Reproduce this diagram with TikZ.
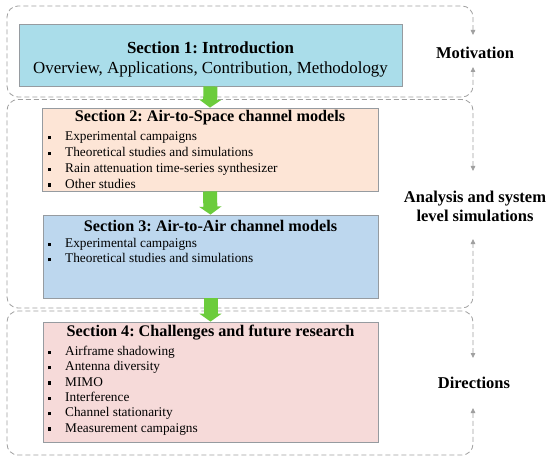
\documentclass[tikz,border=0pt]{standalone}
\usepackage{fontspec}
\setmainfont{Liberation Serif}
\usetikzlibrary{arrows.meta}
\definecolor{cIntro}{RGB}{170,221,234}
\definecolor{cAS}{RGB}{253,229,214}
\definecolor{cAA}{RGB}{189,215,238}
\definecolor{cCh}{RGB}{246,218,217}
\definecolor{cBorder}{RGB}{150,155,160}
\definecolor{cGreen}{RGB}{108,204,60}
\definecolor{cDash}{RGB}{160,160,160}
\newcommand\sqb{\makebox[17pt][l]{\rule[1.5pt]{3pt}{3.3pt}}}
\frenchspacing
\begin{document}
\begin{tikzpicture}[x=1pt,y=-1pt,
  sbox/.style={draw=cBorder, line width=0.8pt, inner sep=0pt},
  ttl/.style={font=\fontsize{16.2}{19}\selectfont\bfseries, inner sep=0pt},
  itm/.style={font=\fontsize{13.3}{15.7}\selectfont, align=left, inner sep=0pt, anchor=north west},
  lbl/.style={font=\fontsize{16.5}{19}\selectfont\bfseries, align=center, inner sep=0pt},
  grp/.style={draw=cDash, line width=0.8pt, dash pattern=on 5pt off 3pt, rounded corners=11pt,
    {Triangle[length=5pt,width=4.5pt]}-{Triangle[length=5pt,width=4.5pt]}},
  garrow/.style={draw=cGreen, line width=14pt, -{Triangle[length=8pt,width=22pt]}}]
\useasboundingbox (0,0) rectangle (550,460);
\fill[white] (0,0) rectangle (550,460);

% right-hand labels
\node[lbl] (mot) at (475,53) {Motivation};
\node[lbl] (ana) at (475,206) {Analysis and system\\level simulations};
\node[lbl] (dir) at (474,383) {Directions};

% dashed groups
\coordinate (g1a) at (473,35); \coordinate (g1b) at (473,67);
\coordinate (g2a) at (473,171); \coordinate (g2b) at (473,239);
\coordinate (g3a) at (473,358); \coordinate (g3b) at (473,408);
\draw[grp] (g1a) -- (473,6) -- (7,6) -- (7,97) -- (473,97) -- (g1b);
\draw[grp] (g2a) -- (473,99.5) -- (7,99.5) -- (7,308) -- (473,308) -- (g2b);
\draw[grp] (g3a) -- (473,311) -- (7,311) -- (7,455) -- (473,455) -- (g3b);

% boxes
\node[sbox, fill=cIntro, minimum width=383pt, minimum height=62pt] (b1) at (210.5,55) {};
\node[align=center, inner sep=0pt, font=\fontsize{16.9}{20}\selectfont] (t1) at (210.5,59)
  {\textbf{Section 1: Introduction}\\Overview, Applications, Contribution, Methodology};

\node[sbox, fill=cAS, minimum width=336pt, minimum height=83pt] (b2) at (210,149.5) {};
\node[ttl] (t2) at (210,118) {Section 2: Air-to-Space channel models};
\node[itm] (l2) at (48,131.5) {\sqb Experimental campaigns\\\sqb Theoretical studies and simulations\\\sqb Rain attenuation time-series synthesizer\\\sqb Other studies};

\node[sbox, fill=cAA, minimum width=335pt, minimum height=83pt] (b3) at (210.5,256.5) {};
\node[ttl] (t3) at (210.5,226) {Section 3: Air-to-Air channel models};
\node[itm, font=\fontsize{13.3}{15.5}\selectfont] (l3) at (48,238) {\sqb Experimental campaigns\\\sqb Theoretical studies and simulations};

\node[sbox, fill=cCh, minimum width=335pt, minimum height=120pt] (b4) at (210.5,382) {};
\node[ttl] (t4) at (210.5,333) {Section 4: Challenges and future research};
\node[itm, font=\fontsize{13.3}{15.3}\selectfont] (l4) at (48,346) {\sqb Airframe shadowing\\\sqb Antenna diversity\\\sqb MIMO\\\sqb Interference\\\sqb Channel stationarity\\\sqb Measurement campaigns};

% green arrows
\draw[garrow] (b1.south) -- (b2.north);
\draw[garrow] (b2.south) -- (b3.north);
\draw[garrow] (b3.south) -- (b4.north);
\end{tikzpicture}
\end{document}
